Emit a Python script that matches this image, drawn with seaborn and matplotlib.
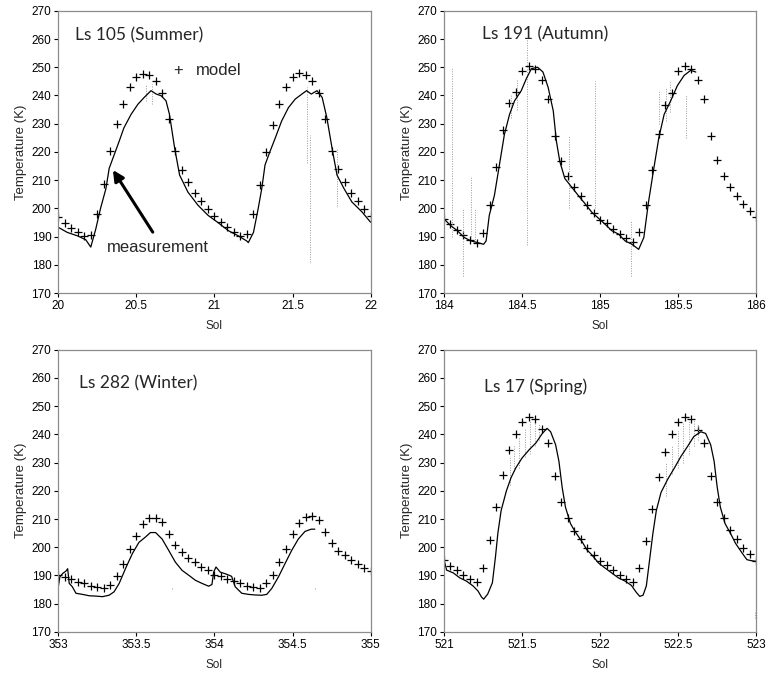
import matplotlib
matplotlib.use("Agg")
import matplotlib.pyplot as plt
from matplotlib.ticker import FuncFormatter, MultipleLocator
import numpy as np
import pandas as pd
import seaborn as sns

### Dados #######################################################################

horas_modelo = np.arange(49)  # modelo de hora em hora, 2 sols

# Ls 105 (Summer), sol 20-22
verao_modelo = [197.1, 194.8, 193.0, 191.5, 190.1, 190.7, 198.1, 208.6, 220.2, 230.0,
                237.1, 242.9, 246.5, 247.7, 247.4, 245.0, 240.9, 231.5, 220.2, 213.6,
                209.2, 205.5, 202.5, 199.9, 197.2, 195.3, 193.5, 191.5, 190.3, 191.1,
                198.1, 208.2, 219.9, 229.5, 237.1, 243.1, 246.5, 247.9, 247.4, 245.3,
                240.9, 231.5, 220.4, 213.8, 209.2, 205.5, 202.5, 199.9, 197.2]
verao_sol = [20.0, 20.058, 20.122, 20.176, 20.208, 20.24, 20.27, 20.305, 20.326, 20.358,
             20.39, 20.42, 20.466, 20.51, 20.55, 20.594, 20.627, 20.659, 20.69, 20.712,
             20.745, 20.777, 20.83, 20.895, 20.96, 21.02, 21.09, 21.152, 21.206, 21.217,
             21.25, 21.28, 21.303, 21.324, 21.356, 21.39, 21.43, 21.474, 21.517, 21.56,
             21.59, 21.62, 21.657, 21.69, 21.72, 21.753, 21.785, 21.83, 21.88, 21.946, 22.0]
verao_temp = [193.3, 191.5, 190.3, 188.9, 186.3, 192.7, 199.9, 207.0, 214.2, 219.0,
              223.8, 228.5, 233.3, 236.9, 239.3, 241.7, 240.5, 239.9, 238.1, 233.3,
              221.4, 211.8, 205.8, 201.1, 197.5, 195.1, 192.1, 190.3, 188.5, 187.9,
              191.5, 199.9, 207.0, 215.4, 220.2, 225.0, 230.9, 235.7, 238.7, 240.5,
              241.7, 240.5, 241.7, 239.3, 232.1, 221.4, 211.8, 207.0, 202.3, 198.7, 195.1]
verao_pico_sol = [20.56, 20.6, 21.59, 21.61, 21.785]
verao_pico_min = [238.0, 237.0, 216.0, 181.0, 201.0]
verao_pico_max = [244.0, 244.0, 243.0, 226.0, 221.0]

# Ls 191 (Autumn), sol 184-186
outono_modelo = [196.3, 194.5, 192.3, 190.7, 188.9, 187.7, 191.3, 201.1, 214.8, 227.6,
                 237.5, 241.1, 248.5, 250.6, 249.4, 245.6, 238.7, 225.6, 216.8, 211.5,
                 207.6, 204.3, 201.1, 198.4, 196.0, 194.7, 192.7, 190.9, 189.4, 188.2,
                 191.5, 201.1, 213.6, 226.4, 236.7, 240.8, 248.6, 250.6, 249.2, 245.6,
                 238.7, 225.6, 217.2, 211.6, 207.6, 204.4, 201.4, 199.0, 196.9]
outono_sol = [184.0, 184.043, 184.086, 184.13, 184.172, 184.215, 184.254, 184.27, 184.29,
              184.323, 184.355, 184.387, 184.42, 184.452, 184.495, 184.527, 184.56, 184.6,
              184.634, 184.667, 184.7, 184.72, 184.742, 184.774, 184.817, 184.86, 184.903,
              184.946, 184.99, 185.03, 185.075, 185.118, 185.16, 185.204, 185.247, 185.28,
              185.31, 185.344, 185.376, 185.41, 185.452, 185.495, 185.538, 185.58, 185.613]
outono_temp = [196.3, 193.9, 192.1, 189.7, 188.5, 187.9, 187.3, 188.5, 197.5,
               204.6, 215.4, 226.2, 233.3, 238.1, 241.7, 245.9, 249.5, 250.0,
               248.3, 242.9, 234.5, 223.8, 216.6, 210.6, 207.6, 204.6, 201.7,
               198.7, 196.5, 194.5, 192.1, 190.9, 188.5, 187.3, 185.5, 189.7,
               202.3, 214.2, 225.0, 233.3, 238.1, 243.5, 247.1, 248.9, 248.3]
outono_pico_sol = [184.05, 184.12, 184.17, 184.2, 184.43, 184.47, 184.53, 184.8, 184.97,
                   185.2, 185.38, 185.42, 185.45, 185.55]
outono_pico_min = [190.0, 176.0, 189.0, 188.0, 232.0, 235.0, 187.0, 200.0, 200.0,
                   176.0, 230.0, 231.0, 234.0, 225.0]
outono_pico_max = [250.0, 200.0, 211.0, 200.0, 240.0, 246.0, 260.0, 226.0, 245.0,
                   196.0, 242.0, 243.0, 245.0, 240.0]

# Ls 282 (Winter), sol 353-355
inverno_modelo = [190.3, 189.5, 188.6, 187.7, 187.2, 186.3, 185.8, 185.6, 186.6, 189.8,
                  194.2, 199.2, 204.1, 208.2, 210.3, 210.5, 209.0, 204.7, 200.8, 198.2,
                  196.3, 194.7, 193.0, 191.8, 190.3, 189.7, 188.9, 188.0, 187.2, 186.3,
                  186.0, 185.6, 187.2, 190.1, 194.7, 199.5, 204.7, 208.5, 210.7, 211.1,
                  209.7, 205.5, 201.5, 198.8, 197.1, 195.6, 193.9, 192.6, 191.5]
inverno_sol = [353.0, 353.01, 353.028, 353.05, 353.06, 353.07, 353.09, 353.113, 353.155,
               353.2, 353.24, 353.283, 353.325, 353.357, 353.39, 353.43, 353.474, 353.516,
               353.56, 353.59, 353.623, 353.665, 353.708, 353.75, 353.793, 353.835,
               353.878, 353.92, 353.963, 353.984, 353.995, 354.01, 354.037, 354.08,
               354.11, 354.133, 354.175, 354.218, 354.26, 354.303, 354.335, 354.367,
               354.41, 354.452, 354.494, 354.537, 354.58, 354.62, 354.643]
inverno_temp = [186.0, 189.5, 190.7, 191.6, 192.4, 187.2, 186.0, 183.7, 183.3,
                182.8, 182.7, 182.5, 183.0, 184.2, 187.2, 192.4, 197.7, 201.7,
                203.7, 205.2, 205.2, 202.9, 198.8, 194.7, 191.8, 190.1,
                188.3, 187.2, 186.2, 186.8, 191.2, 193.0, 191.2, 190.4,
                189.7, 186.0, 183.7, 183.3, 183.1, 183.0, 183.3, 185.4,
                189.5, 194.2, 198.8, 202.9, 205.6, 206.4, 206.4]
inverno_pico_sol = [353.73, 354.643]
inverno_pico_min = [185.3, 185.2]
inverno_pico_max = [186.0, 186.0]

# Ls 17 (Spring), sol 521-523
primavera_modelo = [195.6, 193.5, 192.1, 190.3, 188.8, 187.7, 192.7, 202.6, 214.2, 225.6,
                    234.5, 240.0, 244.2, 246.0, 245.3, 242.0, 236.9, 225.2, 215.9, 210.3,
                    205.8, 202.8, 199.9, 197.3, 195.3, 193.6, 191.9, 190.1, 188.6, 187.8,
                    192.7, 202.3, 213.6, 224.7, 233.6, 240.0, 244.2, 246.0, 245.3, 241.5,
                    236.9, 225.2, 215.9, 210.3, 206.0, 202.8, 199.9, 197.6, 195.3]
primavera_sol = [521.0, 521.017, 521.06, 521.1, 521.144, 521.186, 521.218, 521.24, 521.254,
                 521.28, 521.31, 521.33, 521.345, 521.366, 521.4, 521.43, 521.46, 521.5,
                 521.545, 521.588, 521.63, 521.66, 521.683, 521.715, 521.736, 521.757,
                 521.778, 521.81, 521.84, 521.884, 521.915, 521.947, 521.99, 522.03,
                 522.074, 522.116, 522.16, 522.2, 522.232, 522.254, 522.275, 522.296,
                 522.317, 522.338, 522.36, 522.39, 522.433, 522.476, 522.518, 522.56,
                 522.6, 522.645, 522.676, 522.708, 522.73, 522.75, 522.77, 522.8,
                 522.835, 522.867, 522.91, 522.94, 522.972, 523.0]
primavera_temp = [195.6, 191.9, 190.9, 189.2, 188.0, 186.3, 184.5, 182.4, 181.6,
                  183.4, 187.4, 196.7, 204.9, 213.0, 220.0, 224.7, 228.1, 231.6,
                  234.5, 236.9, 240.3, 242.1, 240.9, 236.3, 230.5, 221.2,
                  214.2, 208.4, 205.5, 202.0, 199.1, 197.3, 194.4, 192.7,
                  190.9, 189.2, 188.0, 186.5, 184.0, 182.6, 183.0, 186.3,
                  195.6, 204.9, 213.0, 219.4, 224.1, 228.1, 232.2, 235.7,
                  239.2, 240.9, 240.3, 236.3, 230.5, 221.2, 214.2, 208.4,
                  204.9, 201.4, 197.9, 195.6, 195.2, 195.0]
primavera_pico_sol = [521.42, 521.45, 521.48, 521.52, 521.55, 521.58, 521.61,
                      522.42, 522.46, 522.5, 522.53, 522.57, 522.6, 522.63, 522.99]
primavera_pico_min = [222.0, 227.0, 228.0, 232.0, 233.0, 236.0, 238.0,
                      218.0, 226.0, 228.0, 230.0, 233.0, 236.0, 238.0, 175.0]
primavera_pico_max = [232.0, 236.0, 239.0, 242.0, 245.0, 244.0, 244.0,
                      230.0, 236.0, 241.0, 244.0, 245.0, 245.0, 244.0, 177.0]

paineis = [
    ("Ls 105 (Summer)", 20, verao_modelo, verao_sol, verao_temp,
     verao_pico_sol, verao_pico_min, verao_pico_max, (20.105, 261.4)),
    ("Ls 191 (Autumn)", 184, outono_modelo, outono_sol, outono_temp,
     outono_pico_sol, outono_pico_min, outono_pico_max, (184.245, 261.6)),
    ("Ls 282 (Winter)", 353, inverno_modelo, inverno_sol, inverno_temp,
     inverno_pico_sol, inverno_pico_min, inverno_pico_max, (353.134, 258.0)),
    ("Ls 17 (Spring)", 521, primavera_modelo, primavera_sol, primavera_temp,
     primavera_pico_sol, primavera_pico_min, primavera_pico_max, (521.254, 257.0)),
]

### Figura ######################################################################

sns.set_theme(style = "white")
plt.rcParams["font.family"] = ["Liberation Sans", "DejaVu Sans"]

fig, axes = plt.subplots(2, 2, figsize = (7.67, 6.73), dpi = 100)
fig.subplots_adjust(left = 0.076, right = 0.986, top = 0.984, bottom = 0.061,
                    wspace = 0.235, hspace = 0.2)

for ax, (titulo, sol0, modelo, sol, temp, p_sol, p_min, p_max, pos) in zip(axes.flat, paineis):
    ax.vlines(p_sol, p_min, p_max, colors = "#9a9a9a", linestyles = (0, (1, 1.5)), lw = 0.7)
    sns.lineplot(x = sol, y = temp, color = "black", lw = 0.9, ax = ax)
    sol_modelo = sol0 + horas_modelo / 24
    sns.scatterplot(x = sol_modelo, y = modelo, marker = "+", color = "black",
                    s = 38, linewidth = 0.9, ax = ax)
    ax.set_xlim(sol0, sol0 + 2)
    ax.set_ylim(170, 270)
    ax.xaxis.set_major_locator(MultipleLocator(0.5))
    ax.yaxis.set_major_locator(MultipleLocator(10))
    ax.xaxis.set_major_formatter(FuncFormatter(lambda v, p: f"{v:g}"))
    ax.tick_params(axis = "both", labelsize = 8.5, length = 3, width = 0.8,
                   direction = "out", bottom = True, left = True, pad = 2,
                   colors = "black")
    for lado in ax.spines.values():
        lado.set_color("#8c8c8c")
        lado.set_linewidth(0.9)
    ax.set_xlabel("Sol", fontsize = 8.5, labelpad = 6)
    ax.set_ylabel("Temperature (K)", fontsize = 9.5, labelpad = 3)
    ax.text(pos[0], pos[1], titulo, fontsize = 12.5, family = ["Lato", "DejaVu Sans"],
            ha = "left", va = "center")

ax = axes[0, 0]
ax.text(20.766, 248.9, "+", fontsize = 12, ha = "center", va = "center")
ax.text(20.884, 248.9, "model", fontsize = 12, ha = "left", va = "center")
ax.text(20.311, 186.1, "measurement", fontsize = 12, ha = "left", va = "center")
ax.annotate("", xy = (20.35, 213.6), xytext = (20.605, 191.6),
            arrowprops = dict(arrowstyle = "-|>", lw = 2.2, color = "black",
                              mutation_scale = 16, shrinkA = 0, shrinkB = 0))

plt.savefig("out.png", dpi = 100)
